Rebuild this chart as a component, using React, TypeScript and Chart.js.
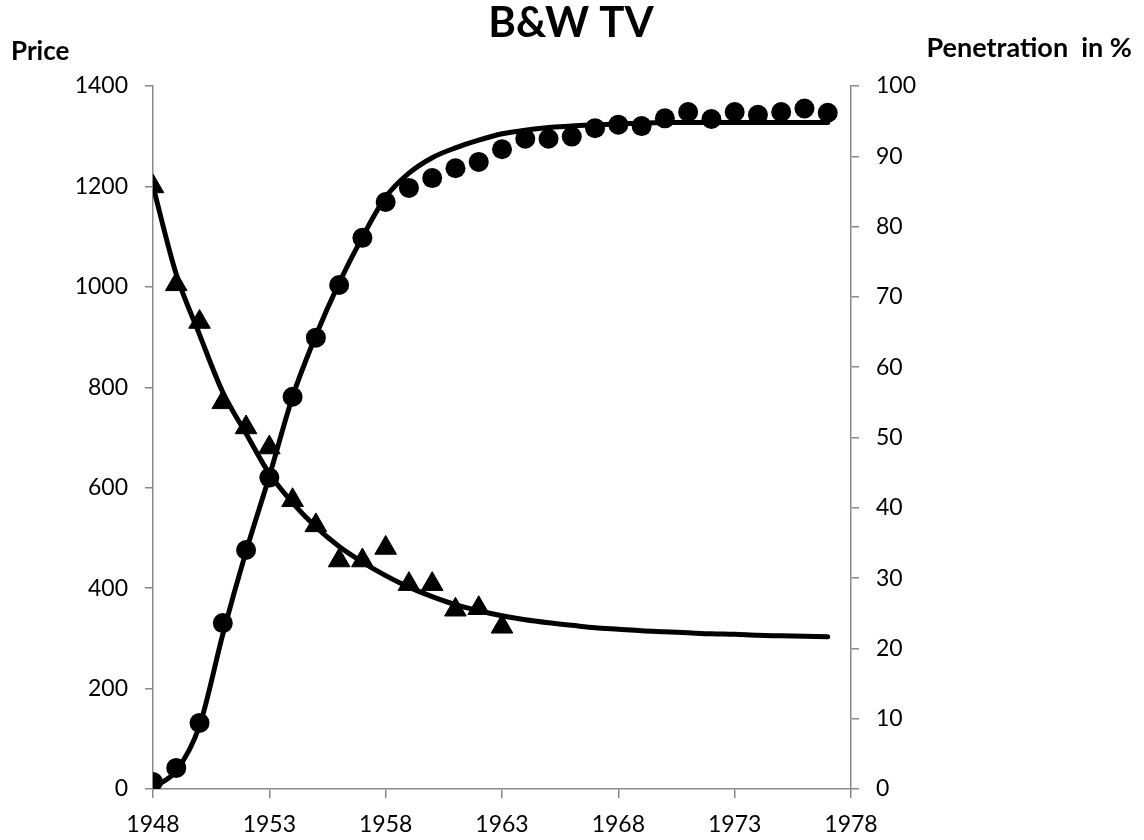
import React, { useEffect, useRef } from "react";
import { Chart, registerables } from "chart.js";

Chart.register(...registerables);

const chartTitle = "B&W TV";
const leftTitle = "Price";
const rightTitle = "Penetration  in %";

const xTicks = [1948, 1953, 1958, 1963, 1968, 1973, 1978];
const priceTicks = [0, 200, 400, 600, 800, 1000, 1200, 1400];
const penTicks = [0, 10, 20, 30, 40, 50, 60, 70, 80, 90, 100];

const priceYears = [1948, 1949, 1950, 1951, 1952, 1953, 1954, 1955, 1956, 1957, 1958, 1959, 1960, 1961, 1962, 1963];
const priceValues = [1200, 1005, 930, 770, 720, 680, 575, 525, 455, 455, 480, 408, 408, 357, 360, 323];

const penYears = [1948, 1949, 1950, 1951, 1952, 1953, 1954, 1955, 1956, 1957, 1958, 1959, 1960, 1961, 1962, 1963, 1964, 1965, 1966, 1967, 1968, 1969, 1970, 1971, 1972, 1973, 1974, 1975, 1976, 1977];
const penValues = [1.0, 3.0, 9.4, 23.6, 34.0, 44.3, 55.8, 64.2, 71.7, 78.4, 83.5, 85.5, 86.9, 88.3, 89.2, 91.0, 92.5, 92.5, 92.8, 94.0, 94.5, 94.3, 95.4, 96.3, 95.3, 96.3, 95.9, 96.3, 96.8, 96.2];

const fitYears = [1948, 1949, 1950, 1951, 1952, 1953, 1954, 1955, 1956, 1957, 1958, 1959, 1960, 1961, 1962, 1963, 1964, 1965, 1966, 1967, 1968, 1969, 1970, 1971, 1972, 1973, 1974, 1975, 1976, 1977];
const priceFit = [1200, 1025, 905, 790, 708, 628, 570, 522, 483, 452, 425, 402, 383, 367, 355, 345, 337, 331, 326, 321, 318, 315, 313, 311, 309, 308, 306, 305, 304, 303];
const penFit = [0.2, 2.6, 9.0, 22.0, 33.8, 44.5, 55.8, 64.5, 72.0, 78.5, 84.2, 87.6, 89.8, 91.2, 92.3, 93.2, 93.7, 94.1, 94.3, 94.5, 94.6, 94.7, 94.8, 94.8, 94.8, 94.8, 94.8, 94.8, 94.8, 94.8];

const W = 1144;
const H = 840;
const AREA_LEFT = 153;
const AREA_RIGHT = 851;
const AREA_TOP = 86;
const AREA_BOTTOM = 789;

const FONT = "Lato, 'Open Sans', sans-serif";
const AXIS_COLOR = "#898989";
const TICK_SIZE = 23;

const toXY = (xs: number[], ys: number[]) => xs.map((x, i) => ({ x, y: ys[i] }));

const textPlugin = {
  id: "textPlugin",
  afterDraw(chart: any) {
    const ctx = chart.ctx;
    ctx.save();
    ctx.fillStyle = "#000";
    ctx.textBaseline = "middle";
    ctx.font = `bold 42px ${FONT}`;
    ctx.textAlign = "center";
    ctx.fillText(chartTitle, 571, 23);
    ctx.font = `bold 26px ${FONT}`;
    ctx.textAlign = "left";
    ctx.fillText(leftTitle, 11, 52);
    ctx.font = `bold 27px ${FONT}`;
    ctx.textAlign = "right";
    ctx.fillText(rightTitle, 1132, 48);
    ctx.restore();
  },
};

export default function App() {
  const ref = useRef<HTMLCanvasElement | null>(null);

  useEffect(() => {
    if (!ref.current) return;
    const chart = new Chart(ref.current, {
      type: "scatter",
      data: {
        datasets: [
          {
            label: "Price fit",
            data: toXY(fitYears, priceFit),
            yAxisID: "y",
            showLine: true,
            borderColor: "#000",
            borderWidth: 5,
            pointRadius: 0,
            cubicInterpolationMode: "monotone",
            borderCapStyle: "round",
          },
          {
            label: "Penetration fit",
            data: toXY(fitYears, penFit),
            yAxisID: "y1",
            showLine: true,
            borderColor: "#000",
            borderWidth: 5,
            pointRadius: 0,
            cubicInterpolationMode: "monotone",
            borderCapStyle: "round",
          },
          {
            label: "Price",
            data: toXY(priceYears, priceValues),
            yAxisID: "y",
            showLine: false,
            pointStyle: "triangle",
            pointRadius: 12.5,
            backgroundColor: "#000",
            borderColor: "#000",
            borderWidth: 1,
          },
          {
            label: "Penetration",
            data: toXY(penYears, penValues),
            yAxisID: "y1",
            showLine: false,
            pointStyle: "circle",
            pointRadius: 10,
            backgroundColor: "#000",
            borderColor: "#000",
            borderWidth: 0,
          },
        ],
      } as any,
      options: {
        responsive: false,
        animation: false,
        events: [],
        layout: { padding: { top: AREA_TOP, left: 0, right: 0, bottom: 0 } },
        plugins: {
          legend: { display: false },
          title: { display: false },
          tooltip: { enabled: false },
        },
        scales: {
          x: {
            type: "linear",
            position: "bottom",
            min: xTicks[0],
            max: xTicks[xTicks.length - 1],
            afterBuildTicks: (s: any) => {
              s.ticks = xTicks.map((v) => ({ value: v }));
            },
            afterFit: (s: any) => {
              s.height = H - AREA_BOTTOM;
            },
            ticks: {
              callback: (v: any) => String(v),
              color: "#000",
              font: { family: FONT, size: TICK_SIZE },
              padding: 13,
              maxRotation: 0,
              autoSkip: false,
            },
            grid: { drawOnChartArea: false, drawTicks: true, tickLength: 9, color: AXIS_COLOR, lineWidth: 1.5 },
            border: { color: AXIS_COLOR, width: 1.5 },
          },
          y: {
            type: "linear",
            position: "left",
            min: priceTicks[0],
            max: priceTicks[priceTicks.length - 1],
            afterBuildTicks: (s: any) => {
              s.ticks = priceTicks.map((v) => ({ value: v }));
            },
            afterFit: (s: any) => {
              s.width = AREA_LEFT;
            },
            ticks: {
              callback: (v: any) => String(v),
              color: "#000",
              font: { family: FONT, size: TICK_SIZE },
              padding: 17,
            },
            grid: { drawOnChartArea: false, drawTicks: true, tickLength: 8, color: AXIS_COLOR, lineWidth: 1.5 },
            border: { color: AXIS_COLOR, width: 1.5 },
          },
          y1: {
            type: "linear",
            position: "right",
            min: penTicks[0],
            max: penTicks[penTicks.length - 1],
            afterBuildTicks: (s: any) => {
              s.ticks = penTicks.map((v) => ({ value: v }));
            },
            afterFit: (s: any) => {
              s.width = W - AREA_RIGHT;
            },
            ticks: {
              callback: (v: any) => String(v),
              color: "#000",
              font: { family: FONT, size: TICK_SIZE },
              padding: 17,
            },
            grid: { drawOnChartArea: false, drawTicks: true, tickLength: 8, color: AXIS_COLOR, lineWidth: 1.5 },
            border: { color: AXIS_COLOR, width: 1.5 },
          },
        },
      } as any,
      plugins: [textPlugin],
    });
    return () => chart.destroy();
  }, []);

  return (
    <div style={{ position: "absolute", left: 0, top: 0, width: W, height: H, background: "#fff" }}>
      <canvas ref={ref} width={W} height={H} style={{ width: W, height: H, display: "block" }} />
    </div>
  );
}
